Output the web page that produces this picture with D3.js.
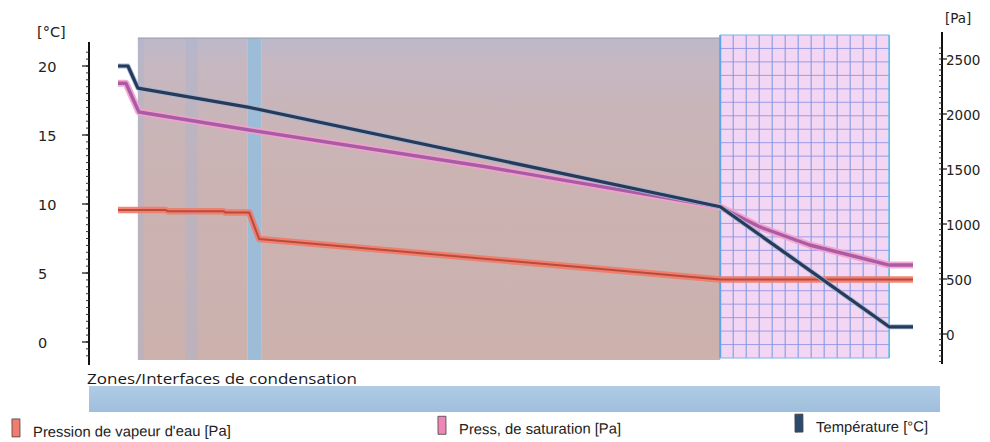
<!DOCTYPE html>
<html>
<head>
<meta charset="utf-8">
<script src="https://cdn.jsdelivr.net/npm/d3@7/dist/d3.min.js"></script>
<style>
  html, body { margin: 0; padding: 0; background: #ffffff; }
  svg { display: block; }
</style>
</head>
<body>
<svg id="chart" width="990" height="442"></svg>
<script>
// Position through the wall section, in mm (0 = inside air, 400 = outside air)
const layerStart = [10, 65, 72, 303];
const layerEnd   = [65, 72, 303, 388];
const layerKind  = ["plain", "barrier", "plain", "insulation"];
// faint joints inside the first layer
const jointStart = [10, 34];
const jointEnd   = [13, 40];

// Temperature [°C]
const tempPos = [0, 5, 10, 66, 303, 388, 400];
const tempVal = [20.0, 20.0, 18.4, 17.0, 9.8, 1.1, 1.1];

// Saturation pressure [Pa]
const satPos = [0, 4, 10.5, 66, 185, 303, 323, 348, 388, 400];
const satVal = [2280, 2280, 2018, 1855, 1520, 1155, 973, 809, 627, 627];

// Water vapour pressure [Pa]
const vapPos = [0, 24, 25, 53, 54, 66, 71, 303, 400];
const vapVal = [1127, 1127, 1117, 1117, 1105, 1105, 864, 495, 495];

// Axis ticks
const tempTicks = [0, 5, 10, 15, 20];
const paTicks = [0, 500, 1000, 1500, 2000, 2500];

// Legend
const legendLabels = ["Pression de vapeur d'eau [Pa]", "Press, de saturation [Pa]", "Température [°C]"];
const legendColors = ["#f27d6e", "#ee86b8", "#2c4a6e"];
const legendX = [12, 438, 795];

const svg = d3.select("#chart");

const x = d3.scaleLinear().domain([0, 400]).range([118, 913]);
const yT = d3.scaleLinear().domain([0, 20]).range([342, 66]);
const yP = d3.scaleLinear().domain([0, 2500]).range([334, 59]);

const defs = svg.append("defs");
const grad = defs.append("linearGradient").attr("id", "panelFill")
  .attr("x1", 0).attr("y1", 0).attr("x2", 0).attr("y2", 1);
grad.append("stop").attr("offset", "0%").attr("stop-color", "#bdb9cb");
grad.append("stop").attr("offset", "8%").attr("stop-color", "#c6b7c0");
grad.append("stop").attr("offset", "40%").attr("stop-color", "#cbb3b3");
grad.append("stop").attr("offset", "100%").attr("stop-color", "#ccb1ad");

const barGrad = defs.append("linearGradient").attr("id", "barFill")
  .attr("x1", 0).attr("y1", 0).attr("x2", 0).attr("y2", 1);
barGrad.append("stop").attr("offset", "0%").attr("stop-color", "#b0cce6");
barGrad.append("stop").attr("offset", "100%").attr("stop-color", "#9ebfdc");

const panelTop = 38, panelBottom = 360;
const gridTop = 35, gridBottom = 358;

// Layers
const layers = layerStart.map((s, i) => ({ s, e: layerEnd[i], kind: layerKind[i] }));
const gLayers = svg.append("g");
layers.forEach(l => {
  if (l.kind === "plain") {
    gLayers.append("rect")
      .attr("x", x(l.s)).attr("y", panelTop)
      .attr("width", x(l.e) - x(l.s)).attr("height", panelBottom - panelTop)
      .attr("fill", "url(#panelFill)");
  } else if (l.kind === "barrier") {
    gLayers.append("rect")
      .attr("x", x(l.s)).attr("y", panelTop)
      .attr("width", x(l.e) - x(l.s)).attr("height", panelBottom - panelTop)
      .attr("fill", "#9dbcd8");
  } else if (l.kind === "insulation") {
    const x0 = x(l.s), x1 = x(l.e);
    gLayers.append("rect")
      .attr("x", x0).attr("y", gridTop)
      .attr("width", x1 - x0).attr("height", gridBottom - gridTop)
      .attr("fill", "#f3d6f3");
    const nCols = 13, nRows = 24;
    const colW = (x1 - x0) / nCols, rowH = (gridBottom - gridTop) / nRows;
    gLayers.append("g").selectAll("line.v").data(d3.range(1, nCols)).join("line")
      .attr("x1", i => x0 + i * colW).attr("x2", i => x0 + i * colW)
      .attr("y1", gridTop).attr("y2", gridBottom)
      .attr("stroke", "#6f93e2").attr("stroke-width", 1.1).attr("opacity", 0.85);
    gLayers.append("g").selectAll("line.h").data(d3.range(1, nRows)).join("line")
      .attr("x1", x0).attr("x2", x1)
      .attr("y1", i => gridTop + i * rowH).attr("y2", i => gridTop + i * rowH)
      .attr("stroke", "#8a8fe0").attr("stroke-width", 1).attr("opacity", 0.8);
    gLayers.append("line").attr("x1", x0).attr("x2", x0).attr("y1", gridTop).attr("y2", gridBottom)
      .attr("stroke", "#5aa6e6").attr("stroke-width", 2);
    gLayers.append("line").attr("x1", x1).attr("x2", x1).attr("y1", gridTop).attr("y2", gridBottom)
      .attr("stroke", "#3fbde6").attr("stroke-width", 1.5);
    gLayers.append("line").attr("x1", x0).attr("x2", x1).attr("y1", gridTop).attr("y2", gridTop)
      .attr("stroke", "#7fb0ea").attr("stroke-width", 1.2);
    gLayers.append("line").attr("x1", x0).attr("x2", x1).attr("y1", gridBottom).attr("y2", gridBottom)
      .attr("stroke", "#7fb0ea").attr("stroke-width", 1.2);
  }
});
// faint joints
jointStart.forEach((s, i) => {
  gLayers.append("rect")
    .attr("x", x(s)).attr("y", panelTop)
    .attr("width", x(jointEnd[i]) - x(s)).attr("height", panelBottom - panelTop)
    .attr("fill", "#aab4cc").attr("opacity", 0.45);
});
// panel top edge
gLayers.append("line").attr("x1", x(10)).attr("x2", x(303)).attr("y1", panelTop).attr("y2", panelTop)
  .attr("stroke", "#9c98a4").attr("stroke-width", 1);

// Lines
function drawSeries(pos, val, yScale, halo, haloW, core, coreW) {
  const pts = pos.map((p, i) => [p, val[i]]);
  const line = d3.line().x(d => x(d[0])).y(d => yScale(d[1]));
  svg.append("path").datum(pts).attr("d", line)
    .attr("fill", "none").attr("stroke", halo).attr("stroke-width", haloW)
    .attr("stroke-linejoin", "round").attr("opacity", 0.9);
  svg.append("path").datum(pts).attr("d", line)
    .attr("fill", "none").attr("stroke", core).attr("stroke-width", coreW)
    .attr("stroke-linejoin", "round");
}
drawSeries(vapPos, vapVal, yP, "#f27a68", 6.5, "#b94a3c", 2);
drawSeries(satPos, satVal, yP, "#f4a0cc", 7, "#a95ca6", 3.4);
drawSeries(tempPos, tempVal, yT, "#9db6d6", 5, "#283a58", 3.2);

// Left axis (°C)
const gL = svg.append("g").attr("font-family", "DejaVu Sans").attr("font-size", 14.5).attr("fill", "#222");
gL.append("line").attr("x1", 89).attr("x2", 89).attr("y1", 42).attr("y2", 365)
  .attr("stroke", "#111").attr("stroke-width", 2);
gL.selectAll("line.minor").data(d3.range(-1, 21.5, 0.5)).join("line")
  .attr("x1", 86).attr("x2", 89).attr("y1", d => yT(d)).attr("y2", d => yT(d))
  .attr("stroke", "#333").attr("stroke-width", 1);
gL.selectAll("line.major").data(tempTicks).join("line")
  .attr("x1", 82).attr("x2", 89).attr("y1", d => yT(d)).attr("y2", d => yT(d))
  .attr("stroke", "#111").attr("stroke-width", 1.2);
gL.selectAll("text.tick").data(tempTicks).join("text")
  .attr("x", 38).attr("y", d => yT(d) + 1).attr("dy", "0.35em")
  .text(d => d);
gL.append("text").attr("x", 37).attr("y", 32).attr("dy", "0.35em").text("[°C]");

// Right axis (Pa)
const gR = svg.append("g").attr("font-family", "DejaVu Sans").attr("font-size", 13.5).attr("fill", "#222");
gR.append("line").attr("x1", 942).attr("x2", 942).attr("y1", 32).attr("y2", 364)
  .attr("stroke", "#111").attr("stroke-width", 2);
gR.selectAll("line.minor").data(d3.range(-250, 2650, 50)).join("line")
  .attr("x1", 939).attr("x2", 942).attr("y1", d => yP(d)).attr("y2", d => yP(d))
  .attr("stroke", "#333").attr("stroke-width", 1);
gR.selectAll("line.major").data(paTicks).join("line")
  .attr("x1", 942).attr("x2", 947).attr("y1", d => yP(d)).attr("y2", d => yP(d))
  .attr("stroke", "#111").attr("stroke-width", 1.2);
gR.selectAll("text.tick").data(paTicks).join("text")
  .attr("x", 946).attr("y", d => yP(d) + 1).attr("dy", "0.35em")
  .text(d => d);
gR.append("text").attr("x", 945).attr("y", 18).attr("dy", "0.35em").text("[Pa]");

// Condensation zones strip
svg.append("text").attr("x", 87).attr("y", 384)
  .attr("font-family", "Open Sans").attr("font-size", 15).attr("fill", "#1a1a1a")
  .attr("textLength", 270).attr("lengthAdjust", "spacingAndGlyphs")
  .text("Zones/Interfaces de condensation");
svg.append("rect").attr("x", 89).attr("y", 386).attr("width", 851).attr("height", 26)
  .attr("fill", "url(#barFill)");

// Legend
const gLeg = svg.append("g").attr("transform", "rotate(-0.35, 0, 430)");
legendLabels.forEach((label, i) => {
  gLeg.append("rect").attr("x", legendX[i]).attr("y", 419).attr("width", 8).attr("height", 18)
    .attr("fill", legendColors[i]).attr("stroke", "#444").attr("stroke-width", 0.8);
  gLeg.append("text").attr("x", legendX[i] + 21).attr("y", 432).attr("dy", "0.35em")
    .attr("font-family", "Liberation Sans").attr("font-size", 14.8).attr("fill", "#222")
    .text(label);
});
</script>
</body>
</html>
